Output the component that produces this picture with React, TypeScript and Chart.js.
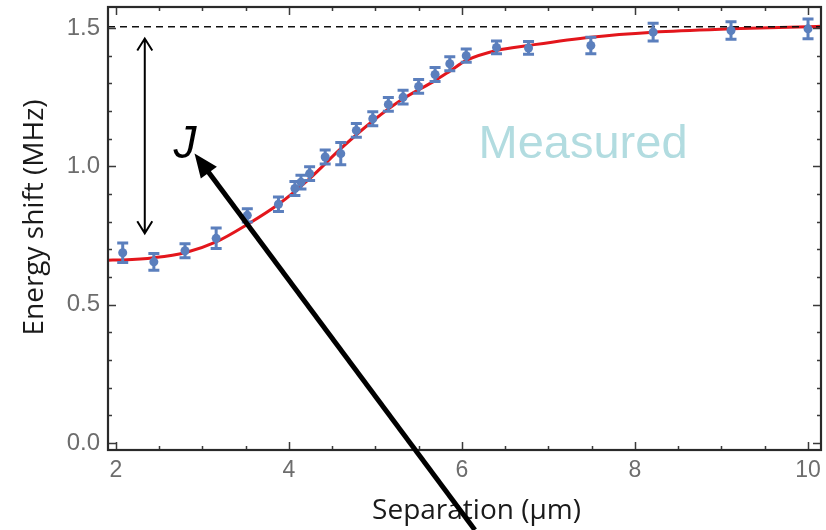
import React, { useEffect, useRef } from "react";
import { Chart, registerables } from "chart.js";

Chart.register(...registerables);

// Measured points: separation (µm), energy shift (MHz), error half-width (MHz)
const sepX = [2.08, 2.44, 2.8, 3.16, 3.52, 3.88, 4.07, 4.14, 4.24, 4.42, 4.6, 4.78, 4.97, 5.15, 5.32, 5.5, 5.69, 5.86, 6.05, 6.4, 6.77, 7.49, 8.21, 9.11, 10.0];
const shiftY = [0.688, 0.655, 0.695, 0.74, 0.823, 0.863, 0.92, 0.943, 0.974, 1.034, 1.046, 1.13, 1.172, 1.224, 1.25, 1.289, 1.332, 1.371, 1.4, 1.43, 1.428, 1.437, 1.485, 1.491, 1.497];
const shiftErr = [0.035, 0.03, 0.025, 0.037, 0.024, 0.026, 0.025, 0.025, 0.025, 0.025, 0.04, 0.025, 0.025, 0.025, 0.025, 0.025, 0.025, 0.025, 0.024, 0.023, 0.023, 0.03, 0.032, 0.032, 0.036];

// Fitted curve
const fitX = [1.91, 2.08, 2.44, 2.8, 3.16, 3.52, 3.88, 4.24, 4.6, 4.97, 5.32, 5.69, 5.86, 6.05, 6.4, 6.77, 7.49, 8.21, 9.11, 10.0, 10.15];
const fitY = [0.661, 0.662, 0.67, 0.688, 0.727, 0.79, 0.863, 0.956, 1.064, 1.164, 1.244, 1.31, 1.344, 1.383, 1.419, 1.437, 1.467, 1.485, 1.497, 1.505, 1.506];

const asymptote = 1.505;

const xTicks = [2, 4, 6, 8, 10];
const xMinorTicks = [2.5, 3, 3.5, 4.5, 5, 5.5, 6.5, 7, 7.5, 8.5, 9, 9.5];
const yTicks = [0, 0.5, 1.0, 1.5];
const yMinorTicks = [0.1, 0.2, 0.3, 0.4, 0.6, 0.7, 0.8, 0.9, 1.1, 1.2, 1.3, 1.4];

const xTitle = "Separation (μm)";
const yTitle = "Energy shift (MHz)";

const X_MIN = 1.91;
const X_MAX = 10.15;
const Y_MIN = -0.025;
const Y_MAX = 1.576;

// Annotations (data coordinates)
const jArrowX = 2.335;
const jArrowTop = 1.462;
const jArrowBottom = 0.758;
const jLabel = { x: 2.8, y: 1.032, text: "J" };
const pointerTail = { x: 6.15, y: -0.314 };
const pointerTip = { x: 2.91, y: 1.047 };
const measuredLabel = { x: 7.4, y: 1.032, text: "Measured" };

const BLUE = "#5b7fbd";
const RED = "#e3161c";
const TITLE_FONT = '28px "Open Sans", sans-serif';

export default function App() {
  const ref = useRef<HTMLCanvasElement>(null);

  useEffect(() => {
    const canvas = ref.current!;

    const plugin = {
      id: "decor",
      beforeDatasetDraw(chart: any, args: any) {
        if (args.index !== 0) return;
        const { ctx, scales } = chart;
        const xs = scales.x, ys = scales.y;
        ctx.save();
        ctx.strokeStyle = BLUE;
        ctx.lineWidth = 3;
        for (let i = 0; i < sepX.length; i++) {
          const px = xs.getPixelForValue(sepX[i]);
          const y1 = ys.getPixelForValue(shiftY[i] + shiftErr[i]);
          const y2 = ys.getPixelForValue(shiftY[i] - shiftErr[i]);
          ctx.beginPath();
          ctx.moveTo(px, y1);
          ctx.lineTo(px, y2);
          ctx.moveTo(px - 5.5, y1);
          ctx.lineTo(px + 5.5, y1);
          ctx.moveTo(px - 5.5, y2);
          ctx.lineTo(px + 5.5, y2);
          ctx.stroke();
        }
        ctx.restore();
      },
      afterDraw(chart: any) {
        const { ctx, chartArea: a, scales } = chart;
        const xs = scales.x, ys = scales.y;
        ctx.save();
        // ticks (inward, all four sides)
        ctx.strokeStyle = "#3a3a3a";
        ctx.lineWidth = 1.5;
        const tick = (v: number, len: number, axis: "x" | "y") => {
          ctx.beginPath();
          if (axis === "x") {
            const p = Math.round(xs.getPixelForValue(v)) + 0.5;
            ctx.moveTo(p, a.bottom); ctx.lineTo(p, a.bottom - len);
            ctx.moveTo(p, a.top); ctx.lineTo(p, a.top + len);
          } else {
            const p = Math.round(ys.getPixelForValue(v)) + 0.5;
            ctx.moveTo(a.left, p); ctx.lineTo(a.left + len, p);
            ctx.moveTo(a.right, p); ctx.lineTo(a.right - len, p);
          }
          ctx.stroke();
        };
        xTicks.forEach((v) => tick(v, 8, "x"));
        xMinorTicks.forEach((v) => tick(v, 4, "x"));
        yTicks.forEach((v) => tick(v, 8, "y"));
        yMinorTicks.forEach((v) => tick(v, 4, "y"));
        // frame
        ctx.strokeStyle = "#2a2a2a";
        ctx.lineWidth = 2.2;
        ctx.strokeRect(a.left, a.top, a.right - a.left, a.bottom - a.top);

        // axis titles
        ctx.fillStyle = "#1a1a1a";
        ctx.font = TITLE_FONT;
        ctx.textAlign = "center";
        ctx.textBaseline = "alphabetic";
        ctx.fillText(xTitle, (a.left + a.right) / 2 + 12, a.bottom + 69);
        ctx.save();
        ctx.translate(a.left - 65, (a.top + a.bottom) / 2 - 11);
        ctx.rotate(-Math.PI / 2);
        ctx.fillText(yTitle, 0, 0);
        ctx.restore();

        // "Measured" label
        ctx.fillStyle = "#b2dce0";
        ctx.font = '47px "Liberation Sans", Arial, sans-serif';
        ctx.textAlign = "center";
        ctx.textBaseline = "alphabetic";
        ctx.fillText(measuredLabel.text, xs.getPixelForValue(measuredLabel.x), ys.getPixelForValue(measuredLabel.y));

        // J label
        ctx.fillStyle = "#000";
        ctx.font = 'italic 46px "Liberation Sans", Arial, sans-serif';
        ctx.fillText(jLabel.text, xs.getPixelForValue(jLabel.x), ys.getPixelForValue(jLabel.y));

        // double-headed arrow
        const ax = xs.getPixelForValue(jArrowX);
        const at = ys.getPixelForValue(jArrowTop);
        const ab = ys.getPixelForValue(jArrowBottom);
        ctx.strokeStyle = "#000";
        ctx.lineWidth = 2;
        ctx.beginPath();
        ctx.moveTo(ax, at); ctx.lineTo(ax, ab);
        ctx.moveTo(ax - 7.5, at + 12); ctx.lineTo(ax, at); ctx.lineTo(ax + 7.5, at + 12);
        ctx.moveTo(ax - 7.5, ab - 12); ctx.lineTo(ax, ab); ctx.lineTo(ax + 7.5, ab - 12);
        ctx.stroke();

        // big pointer arrow
        const tx = xs.getPixelForValue(pointerTail.x), ty = ys.getPixelForValue(pointerTail.y);
        const hx = xs.getPixelForValue(pointerTip.x), hy = ys.getPixelForValue(pointerTip.y);
        const dx = hx - tx, dy = hy - ty;
        const L = Math.hypot(dx, dy);
        const ux = dx / L, uy = dy / L;
        const headLen = 24, headW = 10;
        const bx = hx - ux * headLen, by = hy - uy * headLen;
        ctx.lineWidth = 5;
        ctx.beginPath();
        ctx.moveTo(tx, ty);
        ctx.lineTo(bx + ux * 2, by + uy * 2);
        ctx.stroke();
        ctx.fillStyle = "#000";
        ctx.beginPath();
        ctx.moveTo(hx, hy);
        ctx.lineTo(bx - uy * headW, by + ux * headW);
        ctx.lineTo(bx + uy * headW, by - ux * headW);
        ctx.closePath();
        ctx.fill();
        ctx.restore();
      },
    };

    const chart = new Chart(canvas, {
      type: "scatter",
      data: {
        datasets: [
          {
            label: "Measured",
            data: sepX.map((x, i) => ({ x, y: shiftY[i] })),
            pointRadius: 4.5,
            pointBackgroundColor: BLUE,
            pointBorderColor: BLUE,
            pointBorderWidth: 0,
            showLine: false,
          },
          {
            label: "Asymptote",
            data: [{ x: X_MIN, y: asymptote }, { x: X_MAX, y: asymptote }],
            showLine: true,
            borderColor: "#111",
            borderWidth: 1.5,
            borderDash: [7, 5],
            pointRadius: 0,
          },
          {
            label: "Fit",
            data: fitX.map((x, i) => ({ x, y: fitY[i] })),
            showLine: true,
            borderColor: RED,
            borderWidth: 3,
            pointRadius: 0,
            cubicInterpolationMode: "monotone",
          },
        ],
      },
      options: {
        responsive: false,
        animation: false,
        devicePixelRatio: 1,
        layout: { padding: { top: 7, right: 5, left: 0, bottom: 0 } },
        plugins: { legend: { display: false }, tooltip: { enabled: false } },
        scales: {
          x: {
            type: "linear",
            min: X_MIN,
            max: X_MAX,
            grid: { display: false, drawTicks: false },
            border: { display: false },
            afterBuildTicks: (s: any) => { s.ticks = xTicks.map((v) => ({ value: v })); },
            afterFit: (s: any) => { s.height = 80; s.paddingLeft = 0; s.paddingRight = 0; },
            ticks: {
              color: "#6d6d6d",
              font: { family: '"Liberation Sans", Arial, sans-serif', size: 23 },
              padding: 7,
              maxRotation: 0,
              autoSkip: false,
              callback: (v: any) => String(v),
            },
            title: { display: false },
          },
          y: {
            type: "linear",
            min: Y_MIN,
            max: Y_MAX,
            grid: { display: false, drawTicks: false },
            border: { display: false },
            afterBuildTicks: (s: any) => { s.ticks = yTicks.map((v) => ({ value: v })); },
            afterFit: (s: any) => { s.width = 108; s.paddingTop = 0; s.paddingBottom = 0; },
            ticks: {
              color: "#6d6d6d",
              font: { family: '"Liberation Sans", Arial, sans-serif', size: 24 },
              padding: 8,
              autoSkip: false,
              callback: (v: any) => Number(v).toFixed(1),
            },
            title: { display: false },
          },
        },
      },
      plugins: [plugin],
    } as any);

    return () => chart.destroy();
  }, []);

  return (
    <div style={{ position: "fixed", left: 0, top: 0, width: 826, height: 530, background: "#fff" }}>
      <canvas ref={ref} width={826} height={530} style={{ width: 826, height: 530, display: "block" }} />
    </div>
  );
}
